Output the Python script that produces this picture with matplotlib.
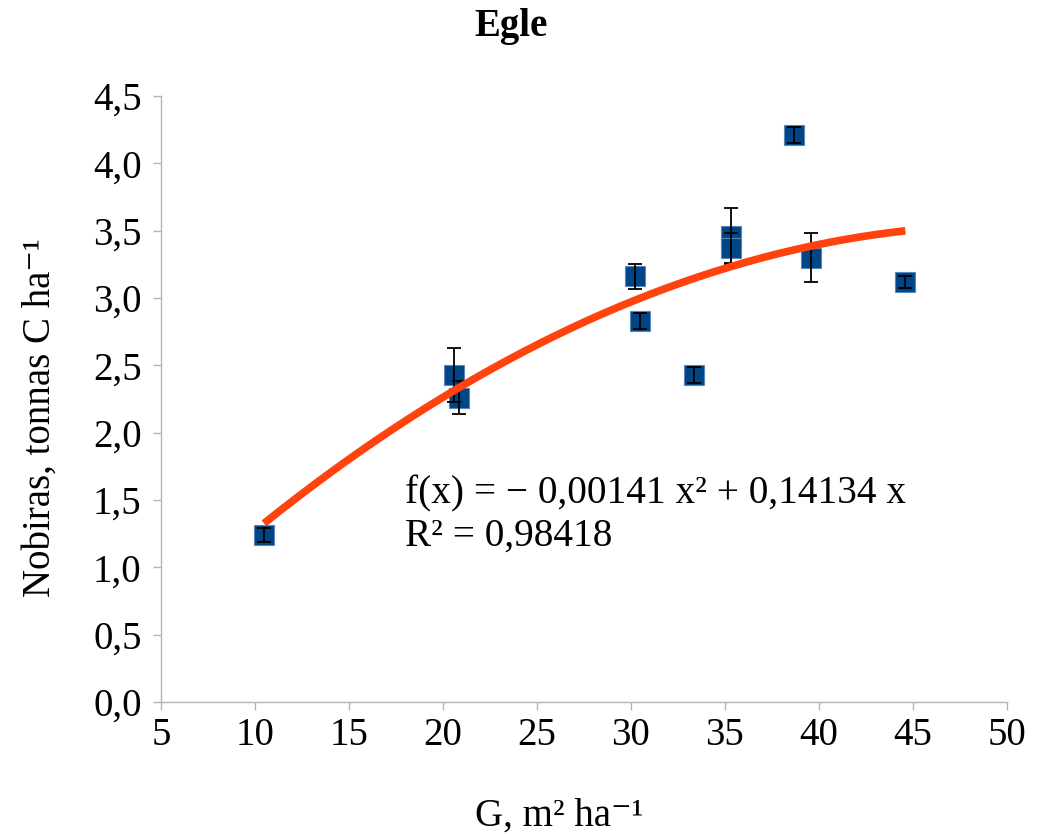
import numpy as np
import matplotlib
matplotlib.use('Agg')
import matplotlib.pyplot as plt

# 数据
g_values = [10.48, 20.6, 20.85, 30.2, 30.5, 33.35, 35.3, 35.3, 38.7, 39.6, 44.6]
carbon = [1.24, 2.43, 2.26, 3.16, 2.83, 2.43, 3.46, 3.37, 4.21, 3.30, 3.12]
carbon_err = [0.05, 0.20, 0.12, 0.09, 0.06, 0.06, 0.21, 0.11, 0.06, 0.18, 0.045]

# 趋势线系数
coef_a = -0.00141
coef_b = 0.14134
r_squared = "0,98418"

x_ticks = [5, 10, 15, 20, 25, 30, 35, 40, 45, 50]
y_ticks = [0.0, 0.5, 1.0, 1.5, 2.0, 2.5, 3.0, 3.5, 4.0, 4.5]

plt.rcParams['font.family'] = ['Liberation Serif', 'DejaVu Serif']

fig = plt.figure(figsize=(10.51, 8.34), dpi=100)
ax = fig.add_axes([0.1532, 0.1583, 0.8048, 0.7266])

ax.plot(g_values, carbon, linestyle='none', marker='s', markersize=14.5,
        color='#004586', markeredgecolor='#5a86b8', markeredgewidth=0.8, zorder=2)
ax.errorbar(g_values, carbon, yerr=carbon_err, fmt='none', ecolor='black',
            elinewidth=1.3, capsize=5, capthick=1.3, zorder=3)

x_fit = np.linspace(min(g_values), max(g_values), 200)
y_fit = coef_a * x_fit ** 2 + coef_b * x_fit
ax.plot(x_fit, y_fit, color='#ff420e', linewidth=5.5, zorder=4, solid_capstyle='butt')

ax.text(18.0, 1.477, "f(x) = − 0,00141 x² + 0,14134 x", fontsize=28.3, va='baseline')
ax.text(18.0, 1.158, "R² = " + r_squared, fontsize=28.3, va='baseline')

ax.set_xlim(5, 50)
ax.set_ylim(0, 4.5)
ax.set_xticks(x_ticks)
ax.set_yticks(y_ticks)
ax.set_xticklabels([str(t) for t in x_ticks])
ax.set_yticklabels([f"{t:.1f}".replace('.', ',') for t in y_ticks])
ax.tick_params(axis='both', labelsize=28, color='#b3b3b3', length=6, width=1)
ax.tick_params(axis='x', pad=5)
ax.tick_params(axis='y', pad=8)

for side in ['top', 'right']:
    ax.spines[side].set_visible(False)
for side in ['left', 'bottom']:
    ax.spines[side].set_color('#b3b3b3')
    ax.spines[side].set_linewidth(1)

fig.text(0.4862, 0.968, "Egle", fontsize=28, fontweight='bold', ha='center', va='center')
fig.text(0.5319, 0.022, "G, m² ha⁻¹", fontsize=28, ha='center', va='center')
fig.text(0.038, 0.499, "Nobiras, tonnas C ha⁻¹", fontsize=28, ha='center', va='center', rotation=90)

fig.savefig('out.png', dpi=100)
